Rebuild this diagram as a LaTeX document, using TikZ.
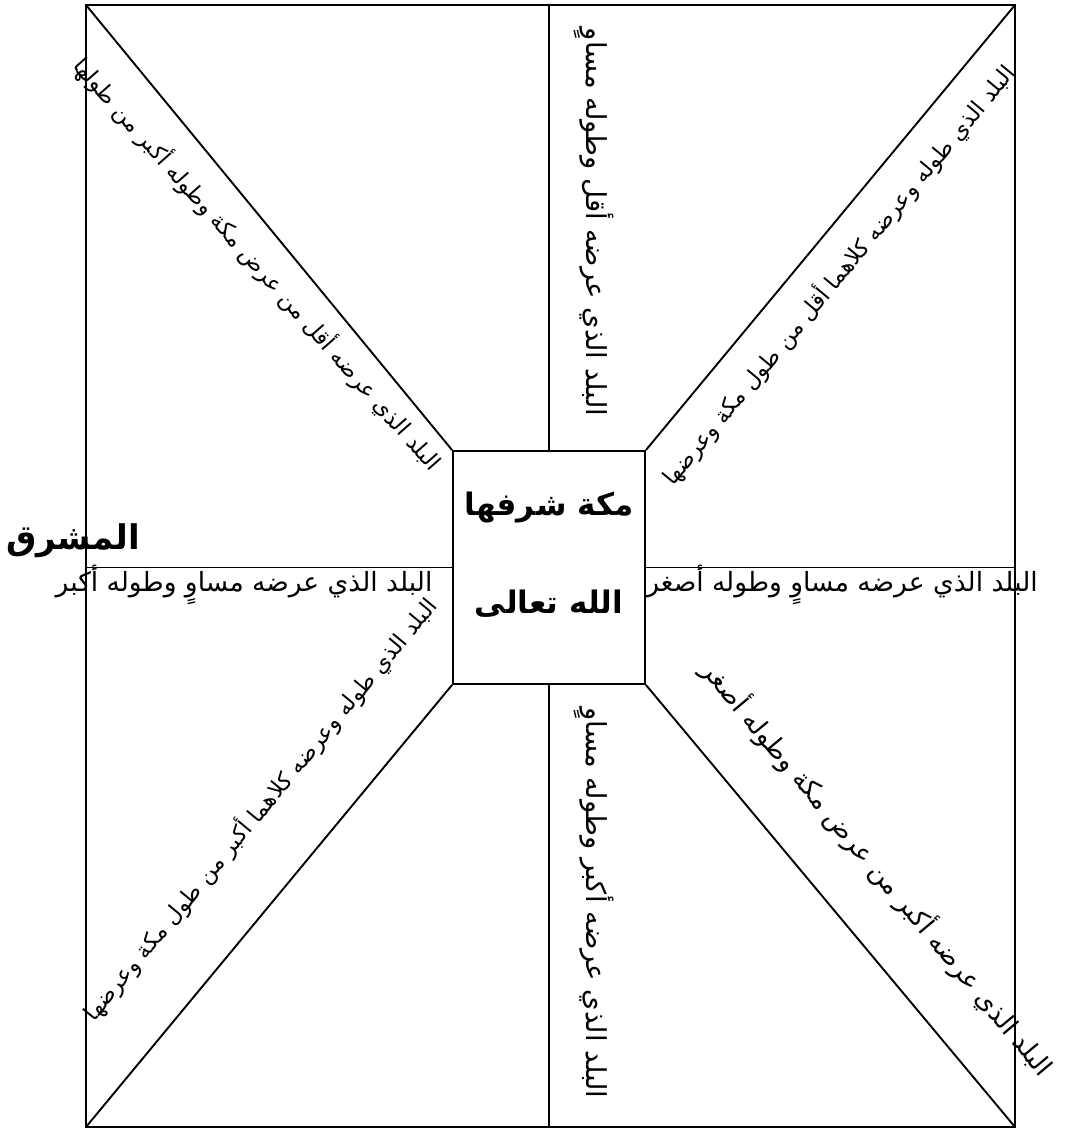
\documentclass[tikz,border=0pt]{standalone}
\usepackage{fontspec}
\newfontfamily\arabicfont[Script=Arabic]{DejaVu Sans}
\TeXXeTstate=1
\usetikzlibrary{positioning, calc}

\tikzset{
  frame/.style={line width=1.9pt},
  label/.style={inner sep=0pt, font=\arabicfont\fontsize{26.5}{30}\selectfont},
  upright/.style={inner sep=0pt, rotate=-90, font=\arabicfont\fontsize{27.5}{31}\selectfont},
  slant/.style={inner sep=0pt, font=\arabicfont\fontsize{22.5}{26}\selectfont},
  title/.style={inner sep=0pt, font=\arabicfont\bfseries\fontsize{31}{36}\selectfont}
}

\begin{document}
\begin{tikzpicture}[x=1pt, y=1pt]
    \useasboundingbox (0,0) rectangle (1067,1130);

    \coordinate (tl) at (86,1125);
    \coordinate (tr) at (1015,1125);
    \coordinate (bl) at (86,3);
    \coordinate (br) at (1015,3);
    \coordinate (n) at (549,1125);
    \coordinate (s) at (549,3);
    \coordinate (w) at (86,562.5);
    \coordinate (e) at (1015,562.5);

    \node (mecca) at (549,562.5) [draw, frame, minimum width=192pt, minimum height=233pt, inner sep=0pt] {};
    \node (mecca1) at (549,622) [title] {\beginR مكة شرفها\endR};
    \node (mecca2) at (549,526) [title] {\beginR الله تعالى\endR};

    \draw[frame] (tl) rectangle (br);
    \draw[frame] (mecca.north) -- (n);
    \draw[frame] (mecca.south) -- (s);
    \draw[frame] (mecca.west) -- (w);
    \draw[frame] (mecca.east) -- (e);
    \draw[frame] (mecca.north west) -- (tl);
    \draw[frame] (mecca.north east) -- (tr);
    \draw[frame] (mecca.south west) -- (bl);
    \draw[frame] (mecca.south east) -- (br);

    \node (mashriq) at (73,589) [title, font=\arabicfont\bfseries\fontsize{34}{40}\selectfont] {\beginR المشرق\endR};

    \node (east) at (842,545) [label] {\beginR البلد الذي عرضه مساوٍ وطوله أصغر\endR};
    \node (west) at (244,545) [label] {\beginR البلد الذي عرضه مساوٍ وطوله أكبر\endR};

    \node (north) at (594,908) [upright] {\beginR البلد الذي عرضه أقل وطوله مساوٍ\endR};
    \node (south) at (594,227) [upright] {\beginR البلد الذي عرضه أكبر وطوله مساوٍ\endR};

    \node (nw) at (258,866) [slant, rotate=-48.5] {\beginR البلد الذي عرضه أقل من عرض مكة وطوله أكبر من طولها\endR};
    \node (ne) at (838,855) [slant, rotate=50.3] {\beginR البلد الذي طوله وعرضه كلاهما أقل من طول مكة وعرضها\endR};
    \node (sw) at (260,321) [slant, rotate=50.4] {\beginR البلد الذي طوله وعرضه كلاهما أكبر من طول مكة وعرضها\endR};
    \node (se) at (878,262) [slant, rotate=-50.1, font=\arabicfont\fontsize{26}{30}\selectfont] {\beginR البلد الذي عرضه أكبر من عرض مكة وطوله أصغر\endR};
\end{tikzpicture}
\end{document}
